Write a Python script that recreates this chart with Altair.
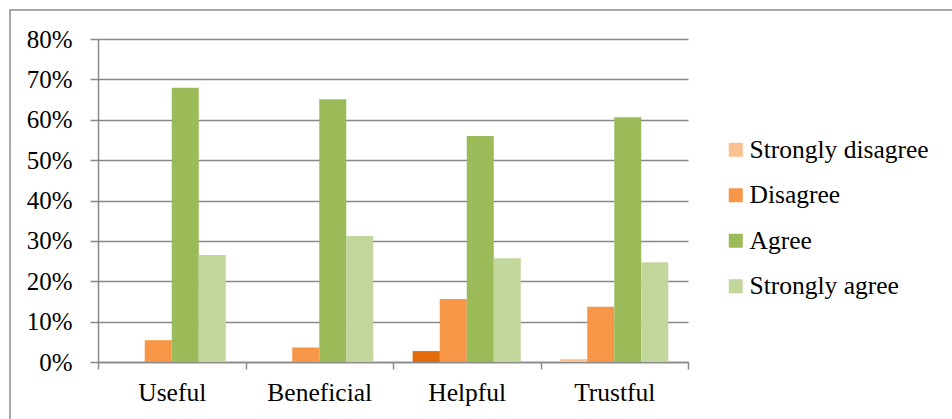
import altair as alt
import pandas as pd

# Survey responses per attribute (share of respondents)
categories = ["Useful", "Beneficial", "Helpful", "Trustful"]
series = ["Strongly disagree", "Disagree", "Agree", "Strongly agree"]
strongly_disagree = [0.0, 0.0, 0.027, 0.007]
disagree = [0.054, 0.036, 0.156, 0.137]
agree = [0.679, 0.651, 0.560, 0.606]
strongly_agree = [0.265, 0.312, 0.257, 0.247]
colors = ["#FAC090", "#F79646", "#9BBB59", "#C3D69B"]
accent = "#E36C0A"  # darker fill used for the Helpful / Strongly disagree bar

rows = []
for i, cat in enumerate(categories):
    for name, vals in zip(series, [strongly_disagree, disagree, agree, strongly_agree]):
        rows.append({"category": cat, "series": name, "value": vals[i]})
df = pd.DataFrame(rows)

W, H = 590, 323
FONT = "Times New Roman, Liberation Serif, serif"
GRID = "#898989"

x_enc = alt.X(
    "category:N",
    sort=categories,
    title=None,
    scale=alt.Scale(paddingInner=0, paddingOuter=0),
    axis=alt.Axis(
        labelAngle=0,
        tickBand="extent",
        grid=False,
        domainColor=GRID,
        domainWidth=1.5,
        tickColor=GRID,
        tickWidth=1.5,
        tickSize=7,
        labelPadding=11,
        labelFont=FONT,
        labelFontSize=25.5,
        labelColor="#000000",
    ),
)
xoff_enc = alt.XOffset(
    "series:N",
    sort=series,
    scale=alt.Scale(domain=series, paddingInner=0, paddingOuter=0.73),
)
y_enc = alt.Y(
    "value:Q",
    title=None,
    scale=alt.Scale(domain=[0, 0.8], nice=False),
    axis=alt.Axis(
        format=".0%",
        values=[0, 0.1, 0.2, 0.3, 0.4, 0.5, 0.6, 0.7, 0.8],
        grid=True,
        gridColor=GRID,
        gridWidth=1.5,
        domainColor=GRID,
        domainWidth=1.5,
        tickColor=GRID,
        tickWidth=1.5,
        tickSize=8,
        labelPadding=18,
        labelFont=FONT,
        labelFontSize=25,
        labelColor="#000000",
    ),
)

bars = alt.Chart(df).mark_bar(size=27).encode(
    x=x_enc,
    xOffset=xoff_enc,
    y=y_enc,
    color=alt.Color(
        "series:N",
        sort=series,
        scale=alt.Scale(domain=series, range=colors),
        legend=alt.Legend(
            title=None,
            orient="none",
            legendX=W + 35,
            legendY=98,
            labelFont=FONT,
            labelFontSize=25.5,
            labelColor="#000000",
            labelLimit=400,
            labelOffset=1,
            symbolType="square",
            symbolSize=196,
            symbolStrokeWidth=0,
            symbolOpacity=1,
            rowPadding=18.5,
            padding=0,
        ),
    ),
)

# The Helpful / Strongly disagree bar is drawn again in the darker accent fill
accent_bar = alt.Chart(df).transform_filter(
    "datum.category == 'Helpful' && datum.series == 'Strongly disagree'"
).mark_bar(size=27, color=accent).encode(
    x=x_enc,
    xOffset=xoff_enc,
    y=y_enc,
)

# Outer chart frame (top and left edges visible)
frame = alt.Chart(pd.DataFrame({"k": [0]})).mark_rect(
    fill=None, stroke="#8a8a8a", strokeWidth=1.5
).encode(
    x=alt.value(-88), x2=alt.value(W + 300),
    y=alt.value(-29), y2=alt.value(H + 100),
)

chart = alt.layer(frame, bars, accent_bar).properties(
    width=W,
    height=H,
    autosize=alt.AutoSizeParams(type="none"),
    padding={"left": 98, "top": 39, "right": 264, "bottom": 57},
    background="#ffffff",
).configure(
    font=FONT,
).configure_view(
    stroke=None
)

chart.save("out.html", embed_options={"renderer": "svg", "actions": False})
